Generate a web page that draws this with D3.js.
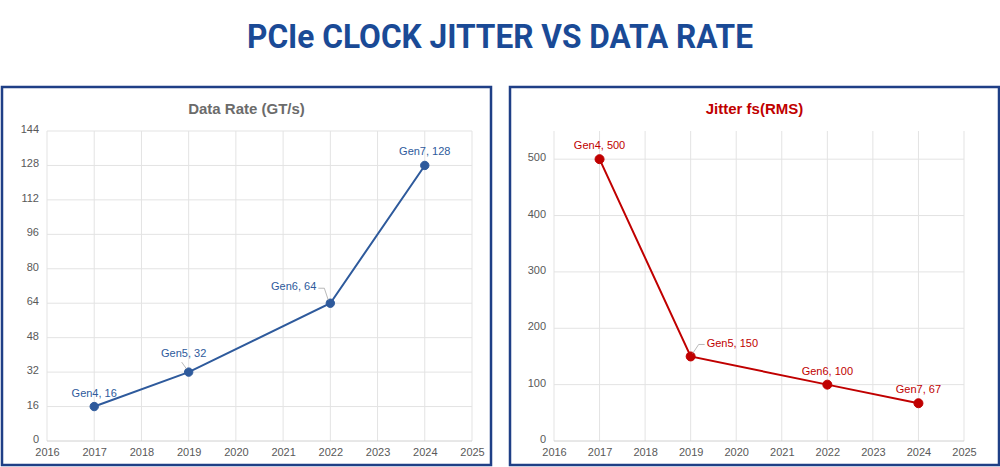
<!DOCTYPE html><html><head><meta charset="utf-8">
<script src="https://cdn.jsdelivr.net/npm/d3@7"></script>
<style>body{margin:0;background:#fff}svg{display:block}</style></head><body>
<svg id="c" width="1000" height="467"></svg>
<script>
const years=[2017,2019,2022,2024];
const gens=["Gen4","Gen5","Gen6","Gen7"];
const rate=[16,32,64,128];
const jitter=[500,150,100,67];
const xTicks=[2016,2017,2018,2019,2020,2021,2022,2023,2024,2025];
const rateTicks=[0,16,32,48,64,80,96,112,128,144];
const jitTicks=[0,100,200,300,400,500];
const svg=d3.select("#c");
svg.append("text").attr("x",500).attr("y",48).attr("text-anchor","middle")
 .attr("font-family","Roboto, Arial").attr("font-weight","bold").attr("font-size",34)
 .attr("fill","#1a4a96").attr("textLength",506).attr("lengthAdjust","spacingAndGlyphs")
 .text("PCIe CLOCK JITTER VS DATA RATE");
function panel(o){
 const g=svg.append("g");
 g.append("rect").attr("x",o.bx).attr("y",87).attr("width",o.bw).attr("height",378)
  .attr("fill","#fff").attr("stroke","#1f3f86").attr("stroke-width",2.5);
 g.append("text").attr("x",o.bx+o.bw/2).attr("y",114).attr("text-anchor","middle")
  .attr("font-family","Arial, Liberation Sans").attr("font-weight","bold").attr("font-size",15)
  .attr("fill",o.tcol).text(o.title);
 const x=d3.scaleLinear().domain([2016,2025]).range([o.x0,o.x1]);
 const y=d3.scaleLinear().domain([0,o.ymax]).range([441,131]);
 g.selectAll(".vg").data(xTicks).join("line").attr("x1",d=>x(d)).attr("x2",d=>x(d))
  .attr("y1",131).attr("y2",441).attr("stroke","#e3e3e3").attr("stroke-width",1);
 g.selectAll(".hg").data(o.ticks).join("line").attr("x1",o.x0).attr("x2",o.x1)
  .attr("y1",d=>y(d)).attr("y2",d=>y(d)).attr("stroke",d=>d===0?"#d0d0d0":"#e3e3e3");
 const ax=g.append("g").attr("transform","translate(0,441)")
  .call(d3.axisBottom(x).tickValues(xTicks).tickFormat(d3.format("d")).tickSize(0).tickPadding(7));
 ax.select(".domain").remove();
 const ay=g.append("g").attr("transform",`translate(${o.x0},-2)`)
  .call(d3.axisLeft(y).tickValues(o.ticks).tickSize(0).tickPadding(8));
 ay.select(".domain").remove();
 g.selectAll(".tick text").attr("font-family","Arial, Liberation Sans").attr("font-size",11).attr("fill","#595959");
 const line=d3.line().x((d,i)=>x(years[i])).y(d=>y(d));
 g.append("path").datum(o.vals).attr("d",line).attr("fill","none").attr("stroke",o.col).attr("stroke-width",2);
 g.selectAll(".pt").data(o.vals).join("circle").attr("cx",(d,i)=>x(years[i])).attr("cy",d=>y(d))
  .attr("r",o.r).attr("fill",o.col).attr("stroke",o.col);
 o.vals.forEach((v,i)=>{
  const [dx,dy,anc,lead]=o.lab[i];
  const px=x(years[i]),py=y(v);
  if(lead){g.append("path").attr("d",lead(px,py)).attr("fill","none").attr("stroke","#a6a6a6").attr("stroke-width",0.8);}
  g.append("text").attr("x",px+dx).attr("y",py+dy).attr("text-anchor",anc)
   .attr("font-family","Arial, Liberation Sans").attr("font-size",11).attr("fill",o.col)
   .text(gens[i]+", "+v);
 });
}
panel({bx:2,bw:489,title:"Data Rate (GT/s)",tcol:"#6b6b6b",x0:47,x1:472,ymax:144,ticks:rateTicks,
 vals:rate,col:"#2e5a9c",r:4.2,
 lab:[[0,-10,"middle"],[-5,-15,"middle",(px,py)=>`M${px-2},${py-3}L${px-7},${py-10}`],
      [-14,-13,"end",(px,py)=>`M${px-2},${py-3}L${px-6},${py-15}L${px-12},${py-15}`],[0,-10,"middle"]]});
panel({bx:510,bw:489,title:"Jitter fs(RMS)",tcol:"#c00000",x0:554,x1:964,ymax:550,ticks:jitTicks,
 vals:jitter,col:"#c00000",r:4.5,
 lab:[[0,-10,"middle"],[16,-9,"start",(px,py)=>`M${px+2},${py-3}L${px+8},${py-12}L${px+14},${py-12}`],
      [0,-10,"middle"],[0,-10,"middle"]]});
</script></body></html>
